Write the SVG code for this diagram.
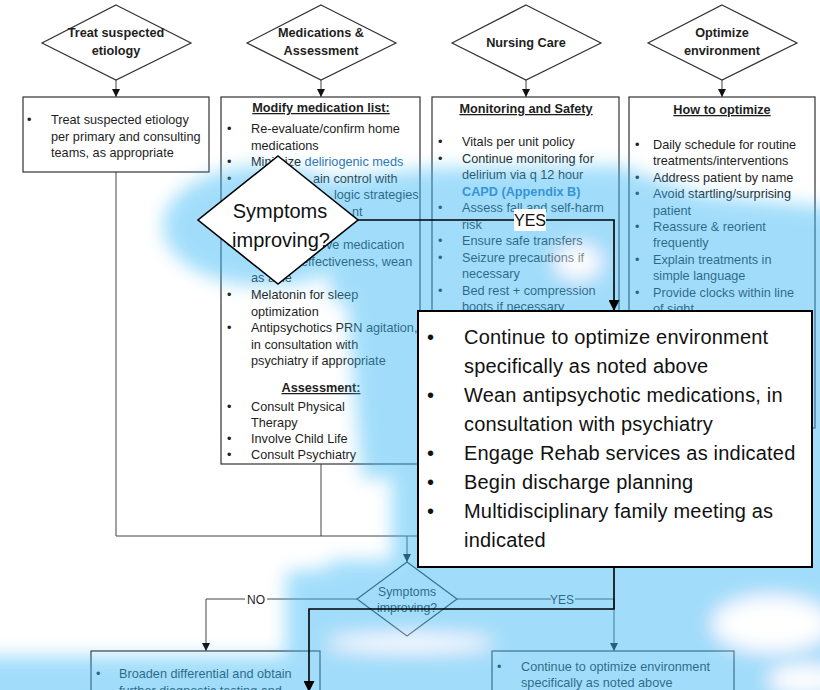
<svg xmlns="http://www.w3.org/2000/svg" width="820" height="690" viewBox="0 0 820 690">
<style>
text{font-family:"Liberation Sans",Arial,sans-serif;fill:#1e1e1e;font-size:12.7px}
.h{font-weight:bold;text-decoration:underline;text-anchor:middle}
.dl{font-weight:bold;text-anchor:middle}
.c{text-anchor:middle}
.bl{fill:#2e75b6}
.box{fill:#fff;stroke:#333;stroke-width:1.2}
.ln{fill:none;stroke:#444;stroke-width:1}
.ov{fill:none;stroke:#000;stroke-width:1.6}
.big{font-size:20px;letter-spacing:0.2px;fill:#111}
.ovt{font-size:20px;fill:#111;text-anchor:middle}
</style>
<defs>
<marker id="a" markerUnits="userSpaceOnUse" markerWidth="8" markerHeight="8" refX="8" refY="4" orient="auto"><path d="M0,0 L8,4 L0,8 z" fill="#111"/></marker>
<marker id="A" markerUnits="userSpaceOnUse" markerWidth="11" markerHeight="11" refX="11" refY="5.5" orient="auto"><path d="M0,0 L11,5.5 L0,11 z" fill="#000"/></marker>
<filter id="blur" filterUnits="userSpaceOnUse" x="-60" y="-60" width="940" height="810"><feGaussianBlur stdDeviation="9"/></filter>
</defs>

<!-- background flowchart -->
<g id="bg-connectors">
<line class="ln" x1="116" y1="80" x2="116" y2="97" marker-end="url(#a)"/>
<line class="ln" x1="321" y1="80" x2="321" y2="97" marker-end="url(#a)"/>
<line class="ln" x1="526" y1="80" x2="526" y2="97" marker-end="url(#a)"/>
<line class="ln" x1="722" y1="80" x2="722" y2="97" marker-end="url(#a)"/>
<path class="ln" d="M116,172 V536 H722"/>
<path class="ln" d="M321,464 V536"/>
<path class="ln" d="M407,536 V562" marker-end="url(#a)"/>
<path class="ln" d="M357,599 H206 V651" marker-end="url(#a)"/>
<path class="ln" d="M457,599 H614 V651" marker-end="url(#a)"/>
<rect x="245" y="592" width="22" height="14" fill="#fff"/>
<text x="256" y="603.5" class="c" style="font-size:12px">NO</text>
<rect x="551" y="592" width="24" height="14" fill="#fff"/>
<text x="562" y="603.5" class="c" style="font-size:12px">YES</text>
</g>

<g id="d-treat">
<polygon class="box" points="116,5 191,43 116,80 42,43"/>
<text class="dl" x="116" y="37">Treat suspected</text>
<text class="dl" x="116" y="55">etiology</text>
</g>
<g id="d-meds">
<polygon class="box" points="321,5 396,43 321,80 247,43"/>
<text class="dl" x="321" y="37">Medications &amp;</text>
<text class="dl" x="321" y="55">Assessment</text>
</g>
<g id="d-nursing">
<polygon class="box" points="526,5 601,43 526,80 452,43"/>
<text class="dl" x="526" y="47">Nursing Care</text>
</g>
<g id="d-env">
<polygon class="box" points="722,5 797,43 722,80 648,43"/>
<text class="dl" x="722" y="37">Optimize</text>
<text class="dl" x="722" y="55">environment</text>
</g>

<g id="b-treat">
<rect class="box" x="23" y="97" width="186" height="75"/>
<text x="27" y="124">•</text>
<text x="51" y="124">Treat suspected etiology</text>
<text x="51" y="141">per primary and consulting</text>
<text x="51" y="157">teams, as appropriate</text>
</g>

<g id="b-meds">
<rect class="box" x="221" y="97" width="199" height="367"/>
<text class="h" x="321" y="112">Modify medication list:</text>
<text x="227" y="133">•</text><text x="251" y="133">Re-evaluate/confirm home</text>
<text x="251" y="149.6">medications</text>
<text x="227" y="166.2">•</text><text x="251" y="166.2">Minimize <tspan class="bl">deliriogenic meds</tspan></text>
<text x="227" y="182.8">•</text><text x="313" y="182.8">ain control with</text>
<text x="334" y="199.4">logic strategies</text>
<text x="352" y="216">nt</text>
<text x="227" y="249.2">•</text><text x="326" y="249.2">ve medication</text>
<text x="301" y="265.8">effectiveness, wean</text>
<text x="251" y="282.4">as able</text>
<text x="227" y="299">•</text><text x="251" y="299">Melatonin for sleep</text>
<text x="251" y="315.6">optimization</text>
<text x="227" y="332.2">•</text><text x="251" y="332.2">Antipsychotics PRN agitation,</text>
<text x="251" y="348.8">in consultation with</text>
<text x="251" y="365.4">psychiatry if appropriate</text>
<text class="h" x="321" y="392">Assessment:</text>
<text x="227" y="411">•</text><text x="251" y="411">Consult Physical</text>
<text x="251" y="427">Therapy</text>
<text x="227" y="443">•</text><text x="251" y="443">Involve Child Life</text>
<text x="227" y="459">•</text><text x="251" y="459">Consult Psychiatry</text>
</g>

<g id="b-nursing">
<rect class="box" x="432" y="97" width="187" height="395"/>
<text class="h" x="526" y="113">Monitoring and Safety</text>
<text x="438" y="146">•</text><text x="462" y="146">Vitals per unit policy</text>
<text x="438" y="162.5">•</text><text x="462" y="162.5">Continue monitoring for</text>
<text x="462" y="179">delirium via q 12 hour</text>
<text x="462" y="195.5" class="bl" style="font-weight:bold">CAPD (Appendix B)</text>
<text x="438" y="212">•</text><text x="462" y="212">Assess fall and self-harm</text>
<text x="462" y="228.5">risk</text>
<text x="438" y="245">•</text><text x="462" y="245">Ensure safe transfers</text>
<text x="438" y="261.5">•</text><text x="462" y="261.5">Seizure precautions if</text>
<text x="462" y="278">necessary</text>
<text x="438" y="294.5">•</text><text x="462" y="294.5">Bed rest + compression</text>
<text x="462" y="311">boots if necessary</text>
</g>

<g id="b-env">
<rect class="box" x="629" y="97" width="186" height="331"/>
<text class="h" x="722" y="114">How to optimize</text>
<text x="635" y="149">•</text><text x="653" y="149">Daily schedule for routine</text>
<text x="653" y="165.4">treatments/interventions</text>
<text x="635" y="181.8">•</text><text x="653" y="181.8">Address patient by name</text>
<text x="635" y="198.2">•</text><text x="653" y="198.2">Avoid startling/surprising</text>
<text x="653" y="214.6">patient</text>
<text x="635" y="231">•</text><text x="653" y="231">Reassure &amp; reorient</text>
<text x="653" y="247.4">frequently</text>
<text x="635" y="263.8">•</text><text x="653" y="263.8">Explain treatments in</text>
<text x="653" y="280.2">simple language</text>
<text x="635" y="296.6">•</text><text x="653" y="296.6">Provide clocks within line</text>
<text x="653" y="313">of sight</text>
</g>

<g id="d-improving-small">
<polygon class="box" points="407,562 457,599 407,636 357,599"/>
<text class="c" x="407" y="596" style="font-size:12.3px">Symptoms</text>
<text class="c" x="407" y="612" style="font-size:12.3px">improving?</text>
</g>

<g id="b-broaden">
<rect class="box" x="91" y="651" width="229" height="60"/>
<text x="96" y="678">•</text>
<text x="119" y="678">Broaden differential and obtain</text>
<text x="119" y="695">further diagnostic testing and</text>
</g>
<g id="b-continue">
<rect class="box" x="492" y="651" width="242" height="60"/>
<text x="497" y="671">•</text>
<text x="521" y="671">Continue to optimize environment</text>
<text x="521" y="687">specifically as noted above</text>
</g>

<!-- blue glow highlight -->
<g id="glow" filter="url(#blur)" opacity="0.48">
<g fill="#3cb9f6">
<ellipse cx="265" cy="226" rx="102" ry="60"/>
<polygon points="330,180 430,168 620,166 700,195 860,210 860,330 330,300"/>
<polygon points="345,280 420,280 420,478 362,478"/>
<rect x="392" y="288" width="470" height="325"/>
<rect x="330" y="560" width="530" height="180"/>
<polygon points="286,572 420,560 420,665 286,665"/>
<rect x="-60" y="656" width="560" height="90"/>
</g>
<g fill="#fff">
<ellipse cx="772" cy="624" rx="58" ry="27"/>
<ellipse cx="410" cy="643" rx="82" ry="7"/>
<ellipse cx="805" cy="680" rx="35" ry="14"/>
<ellipse cx="578" cy="262" rx="22" ry="16"/>
</g>
</g>

<!-- overlay -->
<g id="connectors">
<path class="ov" d="M358,220 H614 V311" marker-end="url(#A)"/>
<path class="ov" d="M614,567 V609 H309 V692" marker-end="url(#A)"/>
<rect x="514" y="209" width="32" height="22" fill="#fff"/>
<text x="530" y="226" class="c" style="font-size:16px;fill:#111">YES</text>
</g>

<g id="d-improving">
<polygon points="278,156 358,220 278,284 198,220" fill="#fff" stroke="#000" stroke-width="1.6"/>
<text class="ovt" x="280" y="218">Symptoms</text>
<text class="ovt" x="281" y="247">improving?</text>
</g>

<g id="b-next">
<rect x="418" y="311" width="394" height="256" fill="#fff" stroke="#000" stroke-width="2"/>
<text class="big" x="427" y="344">•</text><text class="big" x="464" y="344">Continue to optimize environment</text>
<text class="big" x="464" y="373">specifically as noted above</text>
<text class="big" x="427" y="402">•</text><text class="big" x="464" y="402">Wean antipsychotic medications, in</text>
<text class="big" x="464" y="431">consultation with psychiatry</text>
<text class="big" x="427" y="460">•</text><text class="big" x="464" y="460">Engage Rehab services as indicated</text>
<text class="big" x="427" y="489">•</text><text class="big" x="464" y="489">Begin discharge planning</text>
<text class="big" x="427" y="518">•</text><text class="big" x="464" y="518">Multidisciplinary family meeting as</text>
<text class="big" x="464" y="547">indicated</text>
</g>
</svg>
